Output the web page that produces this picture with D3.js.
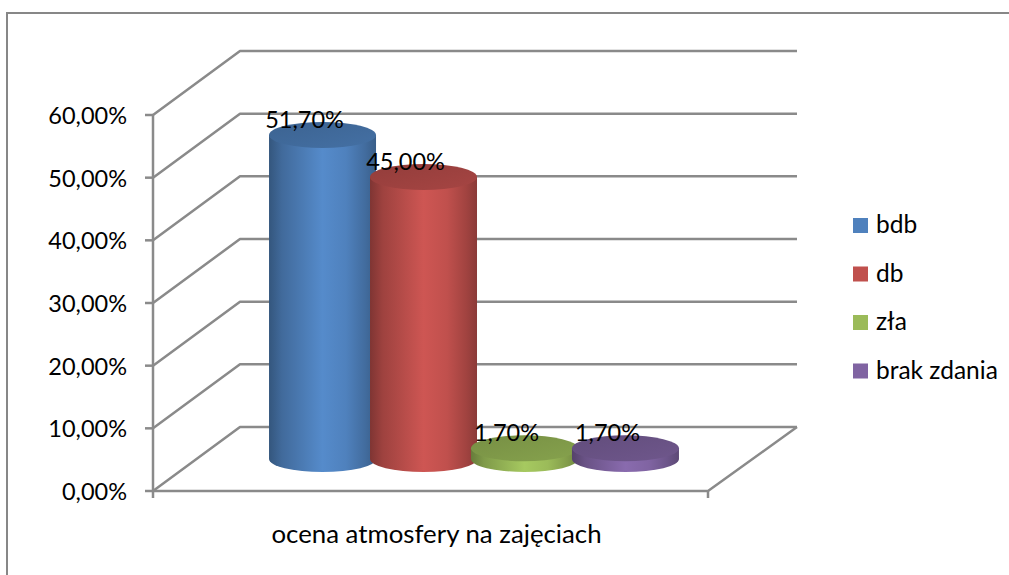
<!DOCTYPE html>
<html>
<head>
<meta charset="utf-8">
<script src="https://cdn.jsdelivr.net/npm/d3@7"></script>
<style>
  html, body { margin: 0; padding: 0; background: #fff; }
  svg { display: block; font-family: Lato, "Open Sans", sans-serif; }
</style>
</head>
<body>
<svg id="chart" width="1009" height="575"></svg>
<script>
// Chart data
const categories = ["ocena atmosfery na zajęciach"];
const seriesNames = ["bdb", "db", "zła", "brak zdania"];
const seriesValues = [0.517, 0.45, 0.017, 0.017];
const seriesColors = ["#4f81bd", "#c0504d", "#9bbb59", "#8064a2"];
const tickValues = [0, 0.1, 0.2, 0.3, 0.4, 0.5, 0.6];
const tickLabels = ["0,00%", "10,00%", "20,00%", "30,00%", "40,00%", "50,00%", "60,00%"];

const svg = d3.select("#chart");
const fontSize = 23.5;
const gridColor = "#8a8a8a";

// Outer chart frame (runs past the right and bottom edges)
svg.append("rect")
  .attr("x", 7).attr("y", 13).attr("width", 1040).attr("height", 600)
  .attr("fill", "#fff").attr("stroke", "#878787").attr("stroke-width", 2);

// 3D box: front plane and depth offset
const frontLeft = 153, frontRight = 708;
const depth = { dx: 87, dy: -64 };
const y = d3.scaleLinear().domain([0, 0.6]).range([491, 115]);

// Category scale on the front floor edge; series sit at mid depth
const xCat = d3.scaleBand().domain(categories).range([frontLeft, frontRight]);
const xSeries = d3.scaleBand().domain(seriesNames)
  .range([frontLeft + depth.dx / 2, frontRight + depth.dx / 2])
  .paddingInner(0).paddingOuter(0.748);

const defs = svg.append("defs");
const grid = svg.append("g").attr("fill", "none").attr("stroke", gridColor)
  .attr("stroke-width", 2.5).attr("stroke-linejoin", "round");

// Side wall + back wall gridlines
tickValues.forEach(v => {
  const yf = y(v);
  grid.append("path").attr("d", d3.line()([
    [frontLeft, yf],
    [frontLeft + depth.dx, yf + depth.dy],
    [frontRight + depth.dx + 2, yf + depth.dy]
  ]));
});

// Floor: front edge and right edge
grid.append("path").attr("d", d3.line()([
  [frontLeft, y(0)], [frontRight, y(0)], [frontRight + depth.dx + 2, y(0) + depth.dy]
]));
// Value axis line and tick marks
grid.append("line").attr("x1", frontLeft).attr("x2", frontLeft)
  .attr("y1", y(0.6)).attr("y2", y(0) + 7);
tickValues.forEach(v => {
  grid.append("line").attr("x1", frontLeft - 8).attr("x2", frontLeft)
    .attr("y1", y(v)).attr("y2", y(v));
});
// Category axis end tick
grid.append("line").attr("x1", frontRight).attr("x2", frontRight)
  .attr("y1", y(0)).attr("y2", y(0) + 7);

// Value axis labels
svg.append("g").selectAll("text").data(tickValues).join("text")
  .attr("x", 127).attr("y", (d) => y(d) + 9)
  .attr("text-anchor", "end").attr("font-size", fontSize).attr("fill", "#000")
  .text((d, i) => tickLabels[i]);

// Category label
svg.append("text")
  .attr("x", xCat(categories[0]) + xCat.bandwidth() / 2 + 6).attr("y", 543)
  .attr("text-anchor", "middle").attr("font-size", 25.8).attr("fill", "#000")
  .text(categories[0]);

// Cylinder gradients
seriesColors.forEach((c, i) => {
  const base = d3.color(c);
  const side = defs.append("linearGradient").attr("id", "side" + i)
    .attr("x1", 0).attr("x2", 1).attr("y1", 0).attr("y2", 0);
  [[0, base.darker(1.15)], [0.12, base.darker(0.55)], [0.5, base.brighter(0.2)],
   [0.72, base], [0.9, base.darker(0.5)], [1, base.darker(0.9)]]
    .forEach(([o, col]) => side.append("stop").attr("offset", o).attr("stop-color", col.formatHex()));
  const top = defs.append("linearGradient").attr("id", "top" + i)
    .attr("x1", 0).attr("x2", 1).attr("y1", 0).attr("y2", 1);
  [[0, base.darker(0.75)], [1, base.darker(0.4)]]
    .forEach(([o, col]) => top.append("stop").attr("offset", o).attr("stop-color", col.formatHex()));
});

// Cylinders, drawn left to right so each overlaps its left neighbour
const rx = 53.5, ry = 13;
const baseY = y(0) + depth.dy / 2;
const bars = svg.append("g");
seriesNames.forEach((name, i) => {
  const cx = xSeries(name) + xSeries.bandwidth() / 2;
  const yTop = y(seriesValues[i]) + depth.dy / 2;
  const g = bars.append("g");
  g.append("path")
    .attr("d", `M${cx - rx},${yTop} L${cx - rx},${baseY} A${rx},${ry} 0 0 0 ${cx + rx},${baseY} L${cx + rx},${yTop} Z`)
    .attr("fill", `url(#side${i})`);
  g.append("ellipse")
    .attr("cx", cx).attr("cy", yTop).attr("rx", rx).attr("ry", ry)
    .attr("fill", `url(#top${i})`);
});

// Data labels
const fmt = v => (v * 100).toFixed(2).replace(".", ",") + "%";
svg.append("g").selectAll("text").data(seriesNames).join("text")
  .attr("x", (d) => xSeries(d) + xSeries.bandwidth() / 2 - 18)
  .attr("y", (d, i) => y(seriesValues[i]) + depth.dy / 2 - 7)
  .attr("text-anchor", "middle").attr("font-size", fontSize).attr("fill", "#000")
  .text((d, i) => fmt(seriesValues[i]));

// Legend
const legend = svg.append("g").attr("transform", "translate(853,218)");
seriesNames.forEach((name, i) => {
  const row = legend.append("g").attr("transform", `translate(0,${i * 48.5})`);
  row.append("rect").attr("width", 15).attr("height", 15).attr("fill", seriesColors[i]);
  row.append("text").attr("x", 23).attr("y", 15)
    .attr("font-size", 24.5).attr("fill", "#000").text(name);
});
</script>
</body>
</html>
